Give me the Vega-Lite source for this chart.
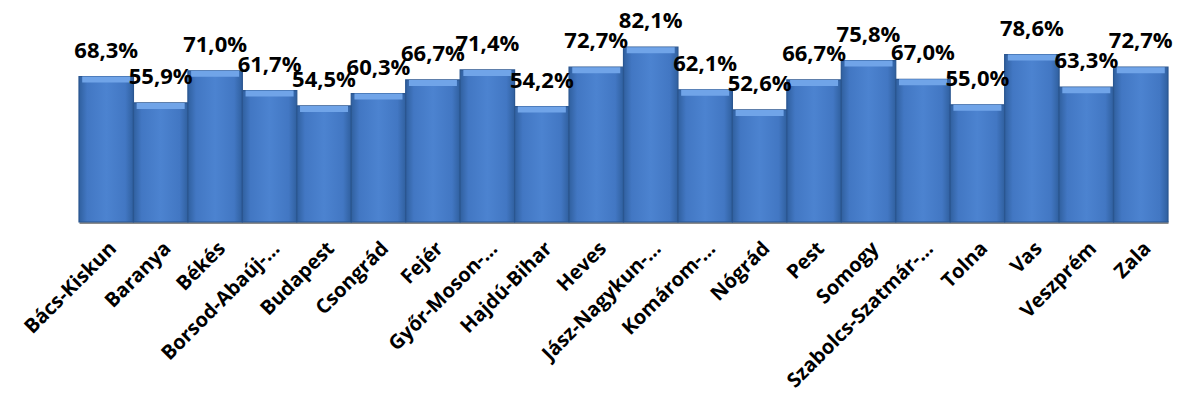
{
  "$schema": "https://vega.github.io/schema/vega-lite/v6.json",
  "autosize": "none",
  "width": 1089,
  "height": 213,
  "padding": {"left": 79, "top": 9, "right": 15, "bottom": 177},
  "background": "white",
  "config": {"view": {"stroke": null}, "font": "Open Sans",
    "locale": {"number": {"decimal": ",", "thousands": " ", "grouping": [3], "currency": ["", " Ft"]}}},
  "data": {"values": [
    {"megye": "Bács-Kiskun", "arany": 0.683},
    {"megye": "Baranya", "arany": 0.559},
    {"megye": "Békés", "arany": 0.710},
    {"megye": "Borsod-Abaúj-…", "arany": 0.617},
    {"megye": "Budapest", "arany": 0.545},
    {"megye": "Csongrád", "arany": 0.603},
    {"megye": "Fejér", "arany": 0.667},
    {"megye": "Győr-Moson-…", "arany": 0.714},
    {"megye": "Hajdú-Bihar", "arany": 0.542},
    {"megye": "Heves", "arany": 0.727},
    {"megye": "Jász-Nagykun-…", "arany": 0.821},
    {"megye": "Komárom-…", "arany": 0.621},
    {"megye": "Nógrád", "arany": 0.526},
    {"megye": "Pest", "arany": 0.667},
    {"megye": "Somogy", "arany": 0.758},
    {"megye": "Szabolcs-Szatmár-…", "arany": 0.670},
    {"megye": "Tolna", "arany": 0.550},
    {"megye": "Vas", "arany": 0.786},
    {"megye": "Veszprém", "arany": 0.633},
    {"megye": "Zala", "arany": 0.727}
  ]},
  "encoding": {
    "x": {"field": "megye", "type": "nominal", "sort": null,
      "scale": {"paddingInner": 0, "paddingOuter": 0},
      "axis": {"title": null, "labelAngle": -45, "labelFontSize": 20, "labelFontWeight": "bold", "labelColor": "black", "labelPadding": 16, "ticks": false, "domainColor": "#8c8c8c", "domainWidth": 3, "labelLimit": 300, "labelOverlap": false}},
    "y": {"field": "arany", "type": "quantitative", "scale": {"domain": [0, 1]}, "axis": null}
  },
  "layer": [
    {"mark": {"type": "bar", "stroke": "#2a5690", "strokeWidth": 1.2,
      "fill": {"gradient": "linear", "x1": 0, "y1": 0, "x2": 1, "y2": 0,
        "stops": [{"offset": 0, "color": "#30609f"}, {"offset": 0.15, "color": "#4277c3"}, {"offset": 0.5, "color": "#4c83d0"}, {"offset": 0.85, "color": "#4277c3"}, {"offset": 1, "color": "#30609f"}]}}},
    {"mark": {"type": "tick", "color": "#70a4e8", "thickness": 6, "yOffset": 3, "opacity": 1, "size": 48}},
    {"mark": {"type": "text", "baseline": "bottom", "dy": -14, "fontSize": 22, "fontWeight": "bold", "color": "black"},
      "encoding": {"text": {"field": "arany", "type": "quantitative", "format": ".1%"}}}
  ]
}
